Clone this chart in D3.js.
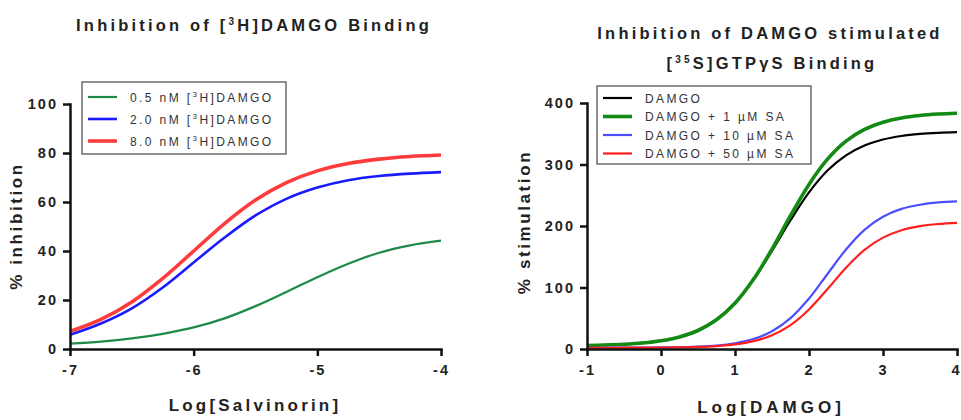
<!DOCTYPE html>
<html>
<head>
<meta charset="utf-8">
<script src="https://cdn.jsdelivr.net/npm/d3@7"></script>
<style>
  body { margin: 0; background: #fff; }
  svg { font-family: "Liberation Sans", Arial, sans-serif; }
  .tick text { font-weight: bold; font-size: 14.5px; letter-spacing: 2px; fill: #222; }
  .axis path, .axis line { stroke: #111; stroke-width: 2.5px; }
  .title, .axtitle { font-weight: bold; fill: #222; }
  .legend text { font-size: 12px; fill: #333; letter-spacing: 2.4px; }
</style>
</head>
<body>
<svg width="961" height="420"></svg>
<script>
// values
const salvX = [-7, -6.75, -6.5, -6.25, -6, -5.75, -5.5, -5.25, -5, -4.75, -4.5, -4.25, -4];
const inh05 = [2.2, 3.0, 4.3, 6.2, 8.8, 12.5, 17.5, 23.3, 29.3, 34.8, 39.3, 42.3, 44.2];
const inh20 = [5.8, 10.4, 16.6, 25.1, 35.3, 45.5, 54.5, 61.3, 65.9, 68.9, 70.6, 71.6, 72.2];
const inh80 = [7.2, 12.1, 19.2, 28.8, 40.0, 51.2, 60.8, 67.9, 72.7, 75.7, 77.5, 78.6, 79.2];

const damgoX = [-1, -0.75, -0.5, -0.25, 0, 0.25, 0.5, 0.75, 1, 1.25, 1.5, 1.75, 2,
                2.25, 2.5, 2.75, 3, 3.25, 3.5, 3.75, 4];
const stimDamgo = [5.9, 6.6, 7.7, 9.9, 13.6, 19.9, 30.7, 48.2, 75.1, 112.7, 159.5, 209.3, 254.6,
                   290.1, 314.9, 330.9, 340.6, 346.4, 349.7, 351.5, 352.6];
const stimSA1 = [5.8, 6.5, 7.7, 9.7, 13.3, 19.6, 30.1, 47.5, 74.5, 113.3, 162.5, 216.8, 267.6,
                 308.7, 338, 357, 368.7, 375.7, 379.7, 382, 383.3];
const stimSA10 = [2.0, 2.1, 2.1, 2.2, 2.5, 3.0, 3.9, 5.7, 9.4, 16.2, 28.8, 50.2, 82,
                  122, 161.9, 193.8, 215.1, 227.8, 234.6, 238.3, 240.1];
const stimSA50 = [2.0, 2.0, 2.1, 2.2, 2.4, 2.7, 3.4, 4.8, 7.5, 12.7, 22.3, 38.8, 64.3,
                  97.4, 132.2, 161.1, 181.1, 193.2, 199.8, 203.3, 205.2];

const leftXTicks = [-7, -6, -5, -4];
const leftYTicks = [0, 20, 40, 60, 80, 100];
const rightXTicks = [-1, 0, 1, 2, 3, 4];
const rightYTicks = [0, 100, 200, 300, 400];

const svg = d3.select("svg");

function panel(opt) {
  const x = d3.scaleLinear().domain(opt.xDomain).range(opt.xRange);
  const y = d3.scaleLinear().domain(opt.yDomain).range(opt.yRange);

  const line = d3.line()
      .x(d => x(d[0]))
      .y(d => y(d[1]))
      .curve(d3.curveCatmullRom.alpha(0.5));

  opt.series.forEach(s => {
    svg.append("path")
        .datum(opt.xs.map((v, i) => [v, s.values[i]]))
        .attr("fill", "none")
        .attr("stroke", s.color)
        .attr("stroke-width", s.width)
        .attr("d", line);
  });

  // axes
  const xa = svg.append("g")
      .attr("class", "axis")
      .attr("transform", `translate(0,${opt.yRange[0]})`)
      .call(d3.axisBottom(x).tickValues(opt.xTicks).tickFormat(d => String(d))
              .tickSize(7).tickPadding(9).tickSizeOuter(0));

  // last label sits at the very edge of the window
  if (opt.clampLast) {
    xa.selectAll(".tick:last-of-type text").attr("text-anchor", "end").attr("dx", 4);
  }

  svg.append("g")
      .attr("class", "axis")
      .attr("transform", `translate(${opt.xRange[0]},0)`)
      .call(d3.axisLeft(y).tickValues(opt.yTicks).tickFormat(d => String(d))
              .tickSize(7).tickPadding(5).tickSizeOuter(0));

  svg.selectAll(".axis text").attr("font-family", null).attr("font-size", null);
  svg.selectAll(".axis .domain").attr("stroke-linecap", "square");

  // axis titles
  svg.append("text")
      .attr("class", "axtitle")
      .attr("x", opt.xLabelPos[0]).attr("y", opt.xLabelPos[1])
      .attr("text-anchor", "middle")
      .style("font-size", "17px").style("letter-spacing", opt.xLabelSpacing)
      .text(opt.xLabel);

  svg.append("text")
      .attr("class", "axtitle")
      .attr("transform", `translate(${opt.yLabelPos[0]},${opt.yLabelPos[1]}) rotate(-90)`)
      .attr("text-anchor", "middle")
      .style("font-size", "17px").style("letter-spacing", "2.6px")
      .text(opt.yLabel);

  // legend
  const lg = svg.append("g").attr("class", "legend")
      .attr("transform", `translate(${opt.legend.x},${opt.legend.y})`);
  lg.append("rect")
      .attr("width", opt.legend.w).attr("height", opt.legend.h)
      .attr("fill", "#fff").attr("stroke", "#555").attr("stroke-width", 1.3);
  opt.series.forEach((s, i) => {
    const ry = opt.legend.first + i * opt.legend.step;
    lg.append("line")
        .attr("x1", 6).attr("x2", 35).attr("y1", ry).attr("y2", ry)
        .attr("stroke", s.color).attr("stroke-width", s.width);
    const t = lg.append("text").attr("x", opt.legend.tx).attr("y", ry + 4.5);
    s.label.forEach(part => {
      if (part.sup) {
        t.append("tspan").attr("dy", -5).style("font-size", "8px").text(part.sup);
        t.append("tspan").attr("dy", 5).text(part.t);
      } else {
        t.append("tspan").text(part.t);
      }
    });
  });
}

// left panel
panel({
  xs: salvX,
  xDomain: [-7, -4], xRange: [70, 441],
  yDomain: [0, 100], yRange: [349, 104],
  xTicks: leftXTicks, yTicks: leftYTicks,
  xLabel: "Log[Salvinorin]", xLabelPos: [255, 411], xLabelSpacing: "3.2px",
  yLabel: "% inhibition", yLabelPos: [22, 226],
  series: [
    {color: "#1e8a4a", width: 2.2, values: inh05, label: [{t: "0.5 nM ["}, {sup: "3", t: "H]DAMGO"}]},
    {color: "#1a1aff", width: 2.6, values: inh20, label: [{t: "2.0 nM ["}, {sup: "3", t: "H]DAMGO"}]},
    {color: "#ff3c3c", width: 3.6, values: inh80, label: [{t: "8.0 nM ["}, {sup: "3", t: "H]DAMGO"}]}
  ],
  legend: {x: 82, y: 82, w: 204, h: 72, first: 15, step: 22, tx: 48}
});

// right panel
panel({
  xs: damgoX,
  xDomain: [-1, 4], xRange: [587, 957],
  yDomain: [0, 400], yRange: [349, 103],
  xTicks: rightXTicks, yTicks: rightYTicks, clampLast: true,
  xLabel: "Log[DAMGO]", xLabelPos: [771, 413], xLabelSpacing: "4px",
  yLabel: "% stimulation", yLabelPos: [530, 222],
  series: [
    {color: "#000000", width: 2.2, values: stimDamgo, label: [{t: "DAMGO"}]},
    {color: "#138a13", width: 3.6, values: stimSA1, label: [{t: "DAMGO + 1 µM SA"}]},
    {color: "#4d4dff", width: 2.2, values: stimSA10, label: [{t: "DAMGO + 10 µM SA"}]},
    {color: "#ff1f1f", width: 2.2, values: stimSA50, label: [{t: "DAMGO + 50 µM SA"}]}
  ],
  legend: {x: 597, y: 86, w: 214, h: 78, first: 12, step: 18.5, tx: 48}
});

// titles
const titleStyle = sel => sel.attr("class", "title").attr("text-anchor", "middle")
    .style("font-size", "16.5px").style("letter-spacing", "3.2px");

const t1 = svg.append("text").call(titleStyle).attr("x", 254).attr("y", 31);
t1.append("tspan").text("Inhibition of [");
t1.append("tspan").attr("dy", -6).style("font-size", "10px").text("3");
t1.append("tspan").attr("dy", 6).text("H]DAMGO Binding");

svg.append("text").call(titleStyle).attr("x", 770).attr("y", 39)
    .text("Inhibition of DAMGO stimulated");

const t2 = svg.append("text").call(titleStyle).attr("x", 772).attr("y", 69);
t2.append("tspan").text("[");
t2.append("tspan").attr("dy", -6).style("font-size", "10px").text("35");
t2.append("tspan").attr("dy", 6).text("S]GTPγS Binding");
</script>
</body>
</html>
